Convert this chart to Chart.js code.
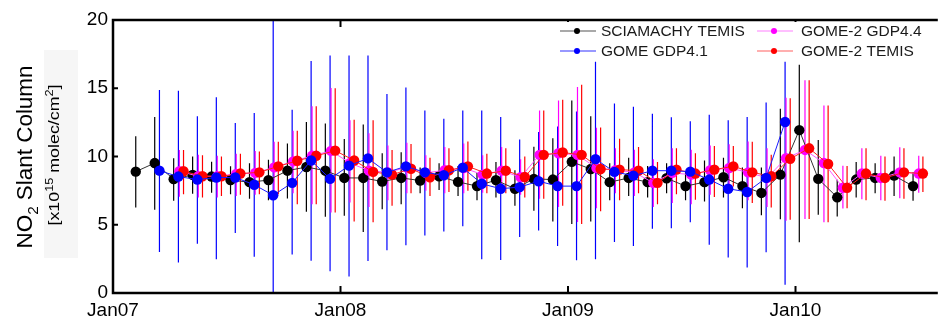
<!DOCTYPE html>
<html><head><meta charset="utf-8">
<script src="https://cdn.jsdelivr.net/npm/chart.js@4/dist/chart.umd.min.js"></script>
<style>html,body{margin:0;padding:0;background:#fff;}canvas{display:block;}</style>
</head><body>
<canvas id="c" width="941" height="321"></canvas>
<script>
// Monthly categories (index 0 = Jan 2007)
const months = ['2007-01','2007-02','2007-03','2007-04','2007-05','2007-06','2007-07','2007-08','2007-09','2007-10','2007-11','2007-12',
 '2008-01','2008-02','2008-03','2008-04','2008-05','2008-06','2008-07','2008-08','2008-09','2008-10','2008-11','2008-12',
 '2009-01','2009-02','2009-03','2009-04','2009-05','2009-06','2009-07','2009-08','2009-09','2009-10','2009-11','2009-12',
 '2010-01','2010-02','2010-03','2010-04','2010-05','2010-06','2010-07'];
const tickLabels = ['Jan07','Jan08','Jan09','Jan10'];
const yTicks = [0,5,10,15,20];

// SCIAMACHY TEMIS
const sciaVal = [null,8.89,9.52,8.34,8.65,8.53,8.27,8.12,8.27,8.96,9.23,8.96,8.43,8.43,8.17,8.43,8.24,8.55,8.14,7.83,8.27,7.64,8.36,8.31,9.61,9.08,8.12,8.43,8.12,8.41,7.83,8.12,8.48,7.83,7.33,8.67,11.93,8.36,7.01,8.31,8.43,8.6,7.83];
const sciaLo  = [null,6.27,6.1,6.75,7.28,7.35,7.23,6.9,6.8,6.92,5.95,5.59,5.66,4.46,6.14,6.51,7.3,7.55,7.1,6.8,7.0,6.4,6.02,5.23,5.06,5.23,6.8,7.1,7.0,7.3,6.8,6.7,7.0,6.2,5.7,5.4,3.71,5.73,5.6,7.0,7.3,7.1,6.75];
const sciaHi  = [null,11.49,12.89,9.88,10.0,9.61,9.28,9.5,9.76,10.96,12.53,12.41,11.28,12.34,10.24,10.31,9.2,9.5,9.3,8.8,9.6,9.0,10.72,11.33,14.1,12.94,9.5,9.9,9.3,9.5,8.9,9.7,9.9,9.2,9.2,13.5,16.72,11.2,8.3,9.6,9.5,10.0,8.85];

// GOME GDP4.1
const gomeVal = [null,null,8.96,8.53,8.31,8.46,8.46,7.93,7.16,8.07,9.71,8.36,9.33,9.86,8.84,9.28,8.84,8.63,9.18,8.0,7.64,7.76,8.19,7.83,7.83,9.81,8.87,8.6,8.96,8.96,8.89,8.31,7.64,7.4,8.43,12.53,null,null,null,null,null,null,null];
const gomeLo  = [null,null,3.01,2.24,3.61,2.48,4.39,2.65,-10,2.82,2.36,1.6,1.2,2.34,3.13,3.49,4.22,4.5,4.89,2.48,2.41,4.1,4.58,3.45,2.4,2.48,3.73,3.45,4.7,4.75,5.18,3.54,2.6,1.86,2.99,0.6,null,null,null,null,null,null,null];
const gomeHi  = [null,null,14.87,14.82,12.94,14.34,12.46,13.18,30,13.42,16.99,17.4,17.4,17.4,14.58,15.06,13.37,12.77,13.37,13.37,12.9,11.25,11.8,12.2,13.3,16.94,13.88,13.64,13.13,12.87,12.58,13.06,12.65,12.89,13.95,16.95,null,null,null,null,null,null,null];

// GOME-2 GDP4.4
const gdpVal = [null,null,null,8.92,8.55,8.55,8.72,8.8,9.2,9.64,10.05,10.41,9.52,8.96,8.84,9.2,8.8,8.99,9.16,8.67,8.96,8.48,10.12,10.24,10.12,9.16,8.99,8.84,8.07,8.8,8.67,8.99,9.16,8.84,8.43,9.88,10.48,9.52,7.71,8.75,8.43,8.84,8.75];
const gdpLo  = [null,null,null,7.06,6.99,6.99,7.1,7.2,7.23,7.3,6.5,5.9,6.63,6.3,6.8,7.3,7.5,7.3,7.3,7.35,7.3,7.2,6.9,6.3,5.2,6.2,7.3,7.1,6.3,6.6,6.5,7.2,7.4,6.8,6.3,5.3,5.42,5.18,6.19,6.87,6.8,6.94,7.35];
const gdpHi  = [null,null,null,10.48,10.12,10.05,10.2,10.4,11.08,11.88,13.69,15.01,12.65,11.7,10.8,11.0,10.1,10.7,10.95,10.1,10.7,9.8,13.37,14.1,15.1,12.1,10.6,10.5,9.8,10.6,10.5,10.8,10.9,11.1,10.6,14.3,15.59,13.73,9.33,10.6,10.05,10.67,10.05];

// GOME-2 TEMIS
const temisVal = [null,null,null,8.92,8.55,8.55,8.75,8.84,9.28,9.69,10.05,10.43,9.71,8.87,8.67,9.1,8.48,8.99,9.28,8.75,8.96,8.5,10.12,10.29,10.12,9.08,9.04,8.96,8.07,9.04,8.75,9.04,9.28,8.84,8.55,9.83,10.6,9.45,7.71,8.75,8.43,8.84,8.75];
const temisLo  = [null,null,null,7.23,7.0,7.1,7.2,7.23,7.23,6.5,6.5,5.9,5.23,5.18,6.39,7.3,7.1,7.4,7.5,7.3,7.3,7.0,6.9,6.4,5.06,5.98,6.8,7.3,6.5,7.23,6.84,7.04,7.8,6.6,6.27,5.37,5.42,5.18,6.2,6.8,6.75,6.9,7.4];
const temisHi  = [null,null,null,10.48,10.1,10.0,10.2,10.36,11.08,11.88,13.69,15.0,12.7,12.65,10.48,10.92,9.9,10.6,11.1,10.2,10.6,10.0,13.37,14.15,15.25,12.12,11.3,10.7,9.6,10.6,10.24,10.77,10.77,11.08,10.12,14.27,15.59,13.73,9.3,10.6,10.0,10.6,10.0];

const FONT = "'Liberation Sans', Arial, sans-serif";

const series = [
  {label:'SCIAMACHY TEMIS', val:sciaVal, lo:sciaLo, hi:sciaHi, shift:0.2, color:'#000000', line:'#333333', legendLine:'#555555', order:3},
  {label:'GOME GDP4.1', val:gomeVal, lo:gomeLo, hi:gomeHi, shift:0.45, color:'#0000ff', line:'#1a1aff', legendLine:'#3333ff', order:0},
  {label:'GOME-2 GDP4.4', val:gdpVal, lo:gdpLo, hi:gdpHi, shift:0.5, color:'#ff00ff', line:'#ff55ff', legendLine:'#ff80ff', order:2},
  {label:'GOME-2 TEMIS', val:temisVal, lo:temisLo, hi:temisHi, shift:0.72, color:'#ff0000', line:'#ff2020', legendLine:'#ff6060', order:1}
];

function pts(s){
  const out=[];
  months.forEach((m,i)=>{ if(s.val[i]!=null) out.push({x:i+s.shift, y:s.val[i]}); });
  return out;
}

const errorBars = {
  id:'errorBars',
  beforeDatasetsDraw(chart){
    const {ctx, chartArea:a, scales:{x,y}} = chart;
    ctx.save();
    ctx.beginPath(); ctx.rect(a.left, a.top, a.right-a.left, a.bottom-a.top); ctx.clip();
    ctx.lineWidth = 1.2;
    [series[1], series[0], series[2], series[3]].forEach(s=>{
      ctx.strokeStyle = s.color;
      ctx.beginPath();
      months.forEach((m,i)=>{
        if(s.val[i]==null) return;
        const px = x.getPixelForValue(i+s.shift);
        ctx.moveTo(px, y.getPixelForValue(s.lo[i]));
        ctx.lineTo(px, y.getPixelForValue(s.hi[i]));
      });
      ctx.stroke();
    });
    ctx.restore();
  }
};

const frame = {
  id:'frame',
  afterDatasetsDraw(chart){
    const {ctx, chartArea:a, scales:{x,y}} = chart;
    ctx.save();
    ctx.strokeStyle='#000'; ctx.lineWidth=2.5;
    ctx.beginPath();
    ctx.moveTo(a.right+2, a.top); ctx.lineTo(a.left, a.top); ctx.lineTo(a.left, a.bottom); ctx.lineTo(a.right+2, a.bottom);
    ctx.stroke();
    ctx.lineWidth=2;
    ctx.beginPath();
    [12,24,36].forEach(v=>{
      const px = x.getPixelForValue(v);
      ctx.moveTo(px, a.bottom); ctx.lineTo(px, a.bottom-7);
      ctx.moveTo(px, a.top); ctx.lineTo(px, a.top+7);
    });
    yTicks.forEach(v=>{
      const py = y.getPixelForValue(v);
      ctx.moveTo(a.left, py); ctx.lineTo(a.left+5, py);
    });
    ctx.stroke();
    // legend
    ctx.fillStyle='#fff';
    ctx.fillRect(556, 22, 380, 36);
    ctx.font = '15.5px ' + FONT;
    ctx.textBaseline='middle'; ctx.textAlign='left';
    const cols = [[560,601],[757,801]];
    const rows = [31,51];
    const place = [[0,0],[0,1],[1,0],[1,1]];
    series.forEach((s,k)=>{
      const [c,r] = place[k];
      const x0 = cols[c][0], tx = cols[c][1], yy = rows[r];
      ctx.strokeStyle = s.legendLine; ctx.lineWidth=1.2;
      ctx.beginPath(); ctx.moveTo(x0, yy); ctx.lineTo(x0+36, yy); ctx.stroke();
      ctx.fillStyle = s.color;
      ctx.beginPath(); ctx.arc(x0+17, yy, 3, 0, Math.PI*2); ctx.fill();
      ctx.fillStyle = '#1a1a1a';
      ctx.fillText(s.label, tx, yy+1);
    });
    ctx.restore();
  }
};

function drawRich(ctx, parts){
  // parts: [text, size, dy]
  let w=0;
  parts.forEach(p=>{ ctx.font = p[1]+'px '+FONT; p.w = ctx.measureText(p[0]).width; w+=p.w; });
  return w;
}

const yTitle = {
  id:'yTitle',
  afterDraw(chart){
    const ctx = chart.ctx;
    ctx.save();
    ctx.fillStyle = '#f6f6f6';
    ctx.fillRect(44, 50, 34, 208);
    const lines = [
      {cx:32, cy:157, len:183, parts:[['NO',22,0],['2',15,6],[' Slant Column',22,0]]},
      {cx:59, cy:155, len:141, parts:[['[x10',14,0],['15',10,-6],[' molec/cm',14,0],['2',10,-6],[']',14,0]]}
    ];
    lines.forEach(L=>{
      const w = drawRich(ctx, L.parts);
      const sc = L.len / w;
      ctx.save();
      ctx.translate(L.cx, L.cy);
      ctx.rotate(-Math.PI/2);
      ctx.scale(sc, 1);
      ctx.fillStyle = '#000';
      ctx.textBaseline = 'alphabetic'; ctx.textAlign='left';
      let px = -w/2;
      L.parts.forEach(p=>{
        ctx.font = p[1]+'px '+FONT;
        ctx.fillText(p[0], px, p[2]);
        px += p.w;
      });
      ctx.restore();
    });
    ctx.restore();
  }
};

new Chart(document.getElementById('c'), {
  type:'line',
  data:{
    datasets: series.map(s=>({
      label:s.label, data:pts(s), order:s.order,
      borderColor:s.line, borderWidth:1,
      pointRadius:5.2, pointHoverRadius:5.2, pointBackgroundColor:s.color, pointBorderWidth:0,
      tension:0, fill:false
    }))
  },
  options:{
    responsive:false, animation:false, devicePixelRatio:1,
    layout:{padding:{left:0, top:20, right:1, bottom:0}},
    plugins:{legend:{display:false}, tooltip:{enabled:false}},
    scales:{
      x:{type:'linear', min:0, max:43.4,
         afterFit(s){ s.height = 28; },
         afterBuildTicks(s){ s.ticks = [0,12,24,36].map(v=>({value:v})); },
         grid:{display:false, drawTicks:false}, border:{display:false},
         ticks:{autoSkip:false, maxRotation:0, padding:6, color:'#000', font:{family:FONT, size:19},
                callback:(v)=>tickLabels[Math.round(v/12)]}},
      y:{min:0, max:20,
         afterFit(s){ s.width = 113; },
         afterBuildTicks(s){ s.ticks = yTicks.map(v=>({value:v})); },
         grid:{display:false, drawTicks:false}, border:{display:false},
         ticks:{padding:5, color:'#000', font:{family:FONT, size:19}}}
    }
  },
  plugins:[errorBars, frame, yTitle]
});
</script>
</body></html>
